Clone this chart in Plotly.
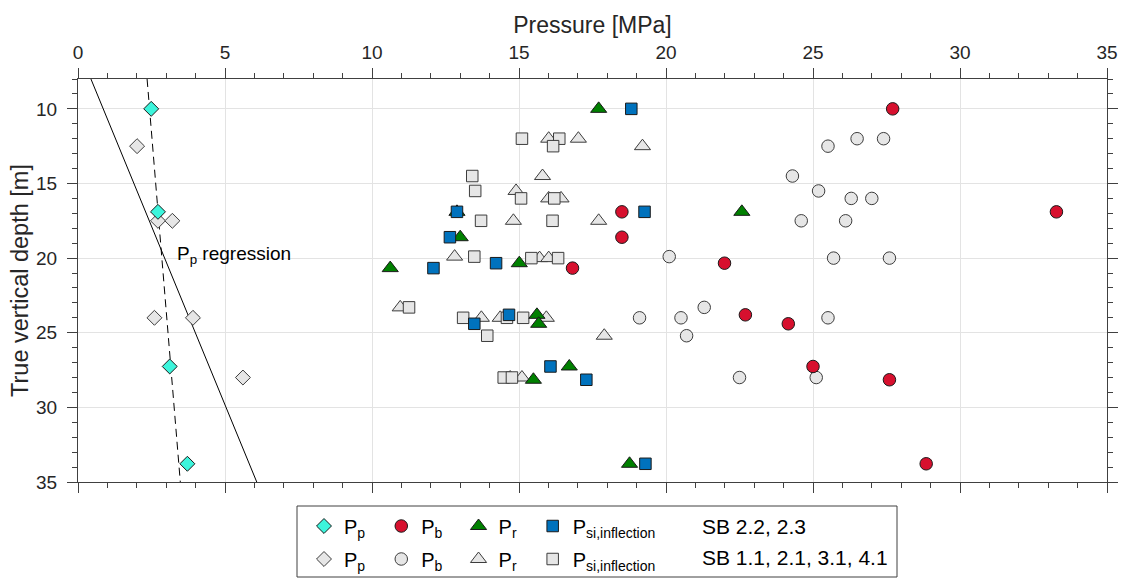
import plotly.graph_objects as go

# ---------------- data ----------------
# Pore-pressure regression lines (pressure MPa, depth m)
reg_solid_p = [0.44, 6.08]
reg_solid_d = [8.0, 35.0]
reg_dash_p = [2.35, 3.48]
reg_dash_d = [8.0, 35.0]

# SB 2.2, 2.3 (coloured)
c_pp_p = [2.49, 2.72, 3.12, 3.72]
c_pp_d = [10.0, 16.9, 27.26, 33.78]

c_pb_p = [27.71, 18.5, 33.28, 18.5, 21.99, 16.82, 22.7, 24.16, 25.0, 27.6, 28.85]
c_pb_d = [10.0, 16.9, 16.9, 18.6, 20.34, 20.67, 23.8, 24.4, 27.26, 28.15, 33.78]

c_pr_p = [17.71, 12.89, 22.58, 13.0, 15.01, 10.62, 15.61, 15.67, 16.71, 15.49, 18.76]
c_pr_d = [10.0, 16.9, 16.9, 18.6, 20.34, 20.67, 23.8, 24.4, 27.26, 28.15, 33.78]

c_psi_p = [18.82, 19.27, 12.89, 12.65, 14.22, 12.09, 14.66, 13.48, 16.07, 17.29, 19.3]
c_psi_d = [10.0, 16.9, 16.9, 18.6, 20.34, 20.67, 23.8, 24.4, 27.26, 28.15, 33.78]

# SB 1.1, 2.1, 3.1, 4.1 (grey)
g_pp_p = [2.01, 2.72, 3.21, 2.6, 3.91, 5.61]
g_pp_d = [12.5, 17.5, 17.5, 24.0, 24.0, 28.0]

g_pb_p = [26.5, 27.4, 25.51, 24.3, 25.19, 26.3, 27.0, 24.6, 26.11, 20.11, 25.7, 27.6,
          21.3, 19.1, 20.51, 25.51, 20.7, 22.5, 25.11]
g_pb_d = [12.0, 12.0, 12.5, 14.5, 15.5, 16.0, 16.0, 17.5, 17.5, 19.9, 20.0, 20.0,
          23.3, 24.0, 24.0, 24.0, 25.2, 28.0, 28.0]

g_pr_p = [16.01, 17.02, 19.2, 15.8, 14.9, 16.01, 16.43, 14.81, 17.71, 12.81, 15.7, 16.01,
          10.96, 13.72, 14.36, 15.93, 17.9, 14.7, 15.1]
g_pr_d = [12.0, 12.0, 12.5, 14.5, 15.5, 16.0, 16.0, 17.5, 17.5, 19.9, 20.0, 20.0,
          23.3, 24.0, 24.0, 24.0, 25.2, 28.0, 28.0]

g_psi_p = [15.1, 16.37, 16.16, 13.41, 13.51, 15.07, 16.2, 13.71, 16.14, 13.48, 15.42, 16.33,
           11.26, 13.1, 14.59, 15.14, 13.92, 14.48, 14.76]
g_psi_d = [12.0, 12.0, 12.5, 14.5, 15.5, 16.0, 16.0, 17.5, 17.5, 19.9, 20.0, 20.0,
           23.3, 24.0, 24.0, 24.0, 25.2, 28.0, 28.0]

x_ticks = [0, 5, 10, 15, 20, 25, 30, 35]
y_ticks = [10, 15, 20, 25, 30, 35]

names = ["P<sub>p</sub>\u00a0\u00a0", "P<sub>b</sub>\u00a0\u00a0", "P<sub>r</sub>\u00a0\u00a0",
         "P<sub>si,inflection</sub>"]
group_labels = ["SB 2.2, 2.3", "SB 1.1, 2.1, 3.1, 4.1"]

# ---------------- style ----------------
FONT = "Liberation Sans, Arial, Helvetica, sans-serif"
TXT = "#262626"
CYAN = "#3CF5DC"
RED = "#D7102E"
GREEN = "#008000"
BLUE = "#0072BD"
GREY = "#E6E6E6"
GEDGE = "#3C3C3C"

W, H = 1124, 579
L, R, T, B = 78, 17, 79, 97
PW, PH = W - L - R, H - T - B


def px2paper_x(p):
    return (p - L) / PW


def px2paper_y(p):
    return (H - B - p) / PH


fig = go.Figure()

fig.add_trace(go.Scatter(x=reg_solid_p, y=reg_solid_d, mode="lines",
                         line=dict(color="black", width=1), showlegend=False, hoverinfo="skip"))
fig.add_trace(go.Scatter(x=reg_dash_p, y=reg_dash_d, mode="lines",
                         line=dict(color="black", width=1, dash="8px,5px"), showlegend=False,
                         hoverinfo="skip"))

sym = ["diamond", "circle", "triangle-up", "square"]
sizes = [11.5, 12.5, 14, 11.5]

grey_sets = [(g_pp_p, g_pp_d), (g_pb_p, g_pb_d), (g_pr_p, g_pr_d), (g_psi_p, g_psi_d)]
col_sets = [(c_pp_p, c_pp_d), (c_pb_p, c_pb_d), (c_pr_p, c_pr_d), (c_psi_p, c_psi_d)]
col_fill = [CYAN, RED, GREEN, BLUE]

for i, (xs, ys) in enumerate(grey_sets):
    fig.add_trace(go.Scatter(x=xs, y=ys, mode="markers", name=names[i], legend="legend2",
                             marker=dict(symbol=sym[i], size=sizes[i], color=GREY,
                                         line=dict(color=GEDGE, width=1))))
for i, (xs, ys) in enumerate(col_sets):
    fig.add_trace(go.Scatter(x=xs, y=ys, mode="markers", name=names[i], legend="legend",
                             marker=dict(symbol=sym[i], size=sizes[i], color=col_fill[i],
                                         line=dict(color="#1a1a1a", width=1))))

axis_common = dict(
    showline=True, linecolor="#404040", linewidth=1, mirror="ticks",
    ticks="outside", ticklen=10, tickwidth=1, tickcolor="#404040",
    showgrid=True, gridcolor="#E3E3E3", gridwidth=1, zeroline=False, automargin=False,
    tickfont=dict(family=FONT, size=19, color=TXT),
    minor=dict(ticks="outside", ticklen=5, tickwidth=1, tickcolor="#404040", dtick=1,
               showgrid=False),
)

fig.update_layout(
    width=W, height=H,
    margin=dict(l=L, r=R, t=T, b=B, autoexpand=False),
    paper_bgcolor="white", plot_bgcolor="white",
    font=dict(family=FONT, color=TXT),
    xaxis=dict(side="top", range=[0, 35], tickvals=x_ticks, ticklabelstandoff=1,
               title=dict(text="Pressure [MPa]", font=dict(family=FONT, size=23, color=TXT),
                          standoff=2),
               **axis_common),
    yaxis=dict(range=[35, 8], tickvals=y_ticks, ticklabelstandoff=6,
               title=dict(text="True vertical depth [m]", font=dict(family=FONT, size=23.5, color=TXT),
                          standoff=0),
               **axis_common),
    legend=dict(orientation="h", x=px2paper_x(304), xanchor="left", y=px2paper_y(526),
                yanchor="middle", bgcolor="rgba(0,0,0,0)", borderwidth=0,
                font=dict(family=FONT, size=20, color="black"), itemclick=False),
    legend2=dict(orientation="h", x=px2paper_x(304), xanchor="left", y=px2paper_y(559),
                 yanchor="middle", bgcolor="rgba(0,0,0,0)", borderwidth=0,
                 font=dict(family=FONT, size=20, color="black"), itemclick=False),
    showlegend=True,
)

# legend frame
fig.add_shape(type="rect", xref="paper", yref="paper",
              x0=px2paper_x(297), x1=px2paper_x(897), y0=px2paper_y(577), y1=px2paper_y(506),
              line=dict(color="#404040", width=1), fillcolor="rgba(0,0,0,0)")

# group labels next to legend rows
for lbl, ypx in zip(group_labels, [526.5, 557]):
    fig.add_annotation(text=lbl, xref="paper", yref="paper", x=px2paper_x(700), y=px2paper_y(ypx),
                       xanchor="left", yanchor="middle", showarrow=False,
                       font=dict(family=FONT, size=21, color="black"))

fig.add_annotation(text="P<sub>p</sub> regression", x=3.3, y=19.8, xref="x", yref="y",
                   xanchor="left", yanchor="middle", showarrow=False,
                   font=dict(family=FONT, size=19, color="black"))

fig.write_html("out.html")
